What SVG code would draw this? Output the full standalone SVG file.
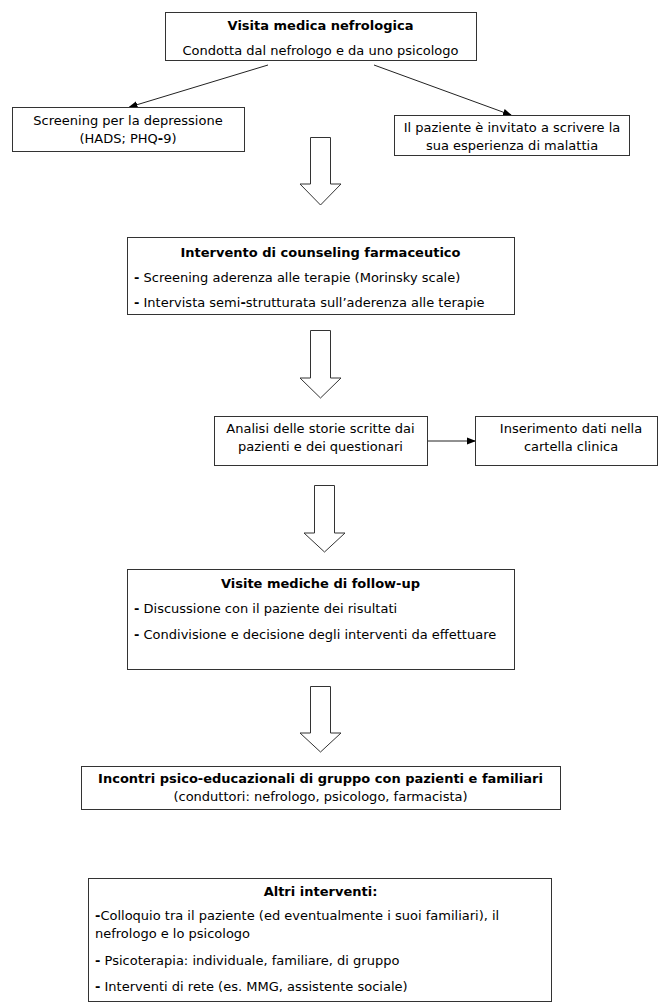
<svg xmlns="http://www.w3.org/2000/svg" width="659" height="1004" viewBox="0 0 659 1004">
<style>
.box{fill:#fff;stroke:#333;stroke-width:1}
.t{font-family:"DejaVu Sans",Verdana,sans-serif;font-size:13px;fill:#000}
.b{font-weight:bold}
.c{text-anchor:middle}
.ln{stroke:#222;stroke-width:1;fill:none}
.blk{fill:#fff;stroke:#333;stroke-width:1}
</style>
<defs>
<marker id="ah" markerWidth="9" markerHeight="8" refX="8" refY="4" orient="auto" markerUnits="userSpaceOnUse">
<path d="M0,0.5 L9,4 L0,7.5 z" fill="#000"/>
</marker>
</defs>
<rect width="659" height="1004" fill="#fff"/>
<g id="connectors">
<line class="ln" x1="268" y1="65" x2="129.5" y2="107" marker-end="url(#ah)"/>
<line class="ln" x1="374" y1="65" x2="511" y2="115" marker-end="url(#ah)"/>
<line class="ln" x1="427" y1="441" x2="475" y2="441" marker-end="url(#ah)"/>
<polygon class="blk" points="310.5,137.5 330.5,137.5 330.5,184 341,184 320.5,205 300,184 310.5,184"/>
<polygon class="blk" points="310.5,330.5 330.5,330.5 330.5,378 341,378 320.5,398 300,378 310.5,378"/>
<polygon class="blk" points="314.5,485.5 334.5,485.5 334.5,533 345,533 324.5,552 304,533 314.5,533"/>
<polygon class="blk" points="310.5,686.5 330.5,686.5 330.5,733 341,733 320.5,752 300,733 310.5,733"/>
</g>
<g id="n1">
<rect class="box" x="165.5" y="12.5" width="311" height="48"/>
<text class="t b c" x="320.5" y="29.5">Visita medica nefrologica</text>
<text class="t c" x="320.5" y="55">Condotta dal nefrologo e da uno psicologo</text>
</g>
<g id="n2">
<rect class="box" x="12.5" y="107.5" width="232" height="44"/>
<text class="t c" x="128" y="125">Screening per la depressione</text>
<text class="t c" x="128" y="143">(HADS; PHQ<tspan class="b">-</tspan>9)</text>
</g>
<g id="n3">
<rect class="box" x="394.5" y="115.5" width="235" height="40"/>
<text class="t c" x="512" y="132">Il paziente è invitato a scrivere la</text>
<text class="t c" x="512" y="150">sua esperienza di malattia</text>
</g>
<g id="n4">
<rect class="box" x="127.5" y="237.5" width="387" height="77"/>
<text class="t b c" x="320.5" y="257">Intervento di counseling farmaceutico</text>
<text class="t" x="134" y="282"><tspan class="b">-</tspan> Screening aderenza alle terapie (Morinsky scale)</text>
<text class="t" x="134" y="307"><tspan class="b">-</tspan> Intervista semi<tspan class="b">-</tspan>strutturata sull’aderenza alle terapie</text>
</g>
<g id="n5">
<rect class="box" x="214.5" y="416.5" width="213" height="49"/>
<text class="t c" x="320.5" y="433">Analisi delle storie scritte dai</text>
<text class="t c" x="320.5" y="451">pazienti e dei questionari</text>
</g>
<g id="n6">
<rect class="box" x="475.5" y="416.5" width="182" height="49"/>
<text class="t c" x="571" y="433">Inserimento dati nella</text>
<text class="t c" x="571" y="451">cartella clinica</text>
</g>
<g id="n7">
<rect class="box" x="127.5" y="569.5" width="387" height="100"/>
<text class="t b c" x="320.5" y="588">Visite mediche di follow-up</text>
<text class="t" x="134" y="613"><tspan class="b">-</tspan> Discussione con il paziente dei risultati</text>
<text class="t" x="134" y="639"><tspan class="b">-</tspan> Condivisione e decisione degli interventi da effettuare</text>
</g>
<g id="n8">
<rect class="box" x="81.5" y="766.5" width="479" height="43"/>
<text class="t b c" x="320.5" y="783">Incontri psico-educazionali di gruppo con pazienti e familiari</text>
<text class="t c" x="320.5" y="801">(conduttori: nefrologo, psicologo, farmacista)</text>
</g>
<g id="n9">
<rect class="box" x="88.5" y="878.5" width="463" height="123"/>
<text class="t b c" x="320.5" y="896">Altri interventi:</text>
<text class="t" x="95" y="920"><tspan class="b">-</tspan>Colloquio tra il paziente (ed eventualmente i suoi familiari), il</text>
<text class="t" x="95" y="938">nefrologo e lo psicologo</text>
<text class="t" x="95" y="965"><tspan class="b">-</tspan> Psicoterapia: individuale, familiare, di gruppo</text>
<text class="t" x="95" y="991"><tspan class="b">-</tspan> Interventi di rete (es. MMG, assistente sociale)</text>
</g>
</svg>
